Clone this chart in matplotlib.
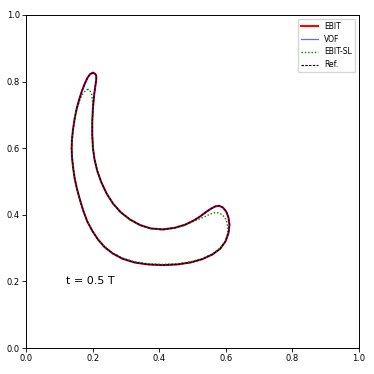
import matplotlib
matplotlib.use("Agg")
from matplotlib import pyplot as plt

# Interface shape at t = 0.5 T (EBIT, VOF and reference overlap)
ref_x = [0.201, 0.193, 0.185, 0.177, 0.168, 0.160, 0.152, 0.146, 0.141, 0.138,
         0.137, 0.138, 0.141, 0.146, 0.153, 0.162, 0.172, 0.184, 0.199, 0.216,
         0.236, 0.260, 0.290, 0.325, 0.365, 0.411, 0.455, 0.495, 0.530, 0.560,
         0.583, 0.599, 0.608, 0.611, 0.608, 0.601, 0.591, 0.580, 0.568, 0.555,
         0.540, 0.523, 0.502, 0.477, 0.447, 0.411, 0.375, 0.343, 0.312, 0.284,
         0.261, 0.242, 0.226, 0.214, 0.206, 0.201, 0.199, 0.199, 0.201, 0.204,
         0.208, 0.211, 0.211, 0.207, 0.201]
ref_y = [0.826, 0.823, 0.812, 0.795, 0.772, 0.747, 0.718, 0.688, 0.655, 0.625,
         0.600, 0.575, 0.545, 0.510, 0.478, 0.445, 0.412, 0.380, 0.352, 0.326,
         0.303, 0.284, 0.268, 0.257, 0.251, 0.249, 0.251, 0.257, 0.267, 0.281,
         0.298, 0.320, 0.345, 0.370, 0.392, 0.410, 0.422, 0.427, 0.425, 0.418,
         0.408, 0.395, 0.382, 0.370, 0.361, 0.356, 0.359, 0.369, 0.386, 0.408,
         0.434, 0.464, 0.498, 0.532, 0.565, 0.600, 0.640, 0.680, 0.720, 0.755,
         0.785, 0.805, 0.818, 0.824, 0.826]

ebit_x = ref_x
ebit_y = ref_y
vof_x = ref_x
vof_y = ref_y

# EBIT-SL: both tips come out shorter
sl_x = [0.186, 0.178, 0.170, 0.162, 0.155, 0.149, 0.145, 0.141, 0.138,
        0.137, 0.138, 0.141, 0.146, 0.153, 0.162, 0.172, 0.184, 0.199, 0.216,
        0.236, 0.260, 0.290, 0.325, 0.365, 0.411, 0.455, 0.495, 0.530, 0.560,
        0.583, 0.599, 0.605, 0.606, 0.603, 0.597, 0.588, 0.577, 0.564, 0.549,
        0.532, 0.502, 0.477, 0.447, 0.411, 0.375, 0.343, 0.312, 0.284,
        0.261, 0.242, 0.226, 0.214, 0.206, 0.201, 0.199, 0.199, 0.200, 0.200,
        0.197, 0.192, 0.186]
sl_y = [0.777, 0.772, 0.762, 0.746, 0.725, 0.705, 0.680, 0.655, 0.625,
        0.600, 0.575, 0.545, 0.510, 0.478, 0.445, 0.412, 0.380, 0.352, 0.327,
        0.305, 0.286, 0.270, 0.259, 0.253, 0.251, 0.253, 0.259, 0.269, 0.283,
        0.300, 0.321, 0.342, 0.362, 0.378, 0.392, 0.401, 0.406, 0.406, 0.400,
        0.392, 0.380, 0.368, 0.360, 0.355, 0.358, 0.368, 0.385, 0.407,
        0.433, 0.463, 0.497, 0.531, 0.565, 0.600, 0.640, 0.680, 0.710, 0.740,
        0.762, 0.773, 0.777]

fig = plt.figure(figsize=(3.74, 3.74), dpi=100)
ax = fig.add_axes([0.0695, 0.0695, 0.8905, 0.8905])

ax.plot(ebit_x, ebit_y, color='red', lw=1.5, label='EBIT')
ax.plot(vof_x, vof_y, color='blue', lw=0.9, alpha=0.6, label='VOF')
ax.plot(sl_x, sl_y, color='green', ls=(0, (1, 1.4)), lw=1.0, label='EBIT-SL')
ax.plot(ref_x, ref_y, color='black', ls=(0, (2.2, 1.2)), lw=0.8, label='Ref.')

ax.text(0.12, 0.2, 't = 0.5 T', fontsize=8, va='center')

ax.set_xlim(0, 1)
ax.set_ylim(0, 1)
ax.set_xticks([0.0, 0.2, 0.4, 0.6, 0.8, 1.0])
ax.set_yticks([0.0, 0.2, 0.4, 0.6, 0.8, 1.0])
ax.tick_params(labelsize=6, length=3, width=0.6, pad=1.5)
for s in ax.spines.values():
    s.set_linewidth(0.7)

ax.legend(loc='upper right', fontsize=5.5, handlelength=2.2)

fig.savefig('out.png', dpi=100)
